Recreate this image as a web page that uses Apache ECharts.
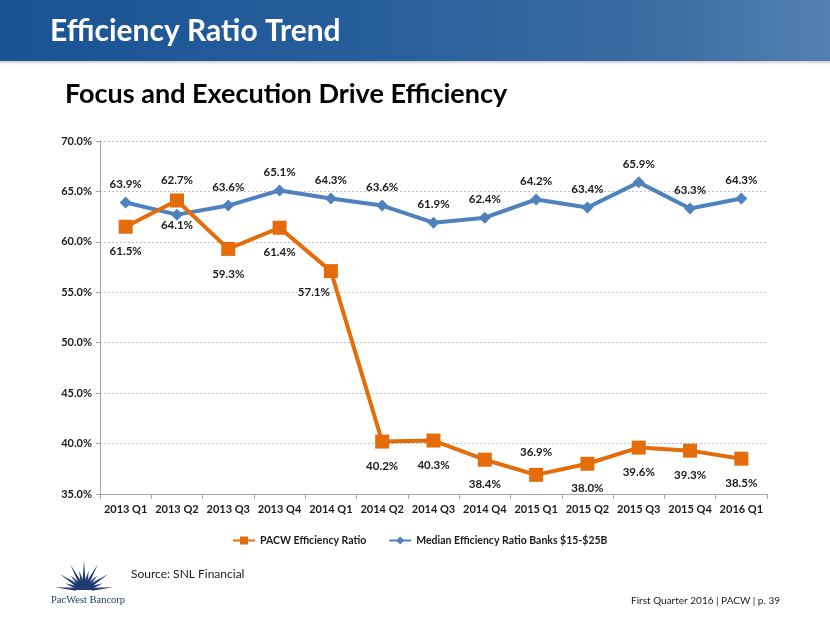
<!DOCTYPE html>
<html><head><meta charset="utf-8">
<script src="https://cdn.jsdelivr.net/npm/echarts@6/dist/echarts.min.js"></script>
<style>html,body{margin:0;padding:0;background:#fff}#c{width:830px;height:623px}</style>
</head><body><div id="c"></div>
<script>
var categories = ['2013 Q1','2013 Q2','2013 Q3','2013 Q4','2014 Q1','2014 Q2','2014 Q3','2014 Q4','2015 Q1','2015 Q2','2015 Q3','2015 Q4','2016 Q1'];
var pacwValues = [61.5, 64.1, 59.3, 61.4, 57.1, 40.2, 40.3, 38.4, 36.9, 38.0, 39.6, 39.3, 38.5];
var medianValues = [63.9, 62.7, 63.6, 65.1, 64.3, 63.6, 61.9, 62.4, 64.2, 63.4, 65.9, 63.3, 64.3];
var seriesNames = ['PACW Efficiency Ratio', 'Median Efficiency Ratio Banks $15-$25B'];
var yTicks = {min: 35, max: 70, interval: 5};

var FONT = 'Lato, "Open Sans", sans-serif';
var ORANGE = '#E46C0A', BLUE = '#4F81BD';

var pacwData = pacwValues.map(function(v, i){
  var d = {value: v};
  if (categories[i] === '2015 Q1') d.label = {position: 'top', distance: 10};
  if (categories[i] === '2014 Q1') d.label = {offset: [-17, -4]};
  return d;
});
var medianData = medianValues.map(function(v, i){
  var d = {value: v};
  if (categories[i] === '2013 Q2') d.label = {distance: 22};
  return d;
});

// logo rays
var logo = [];
var cx = 84, cy = 590;
for (var k = 0; k < 13; k++) {
  var a = Math.PI * (0.03 + 0.94 * k / 12);
  var len = (k % 2 === 0) ? 29 : 20;
  var w = 0.2;
  logo.push({type:'polygon', shape:{points:[
    [cx + 8*Math.cos(a - w), cy - 8*Math.sin(a - w)],
    [cx + len*Math.cos(a), cy - len*Math.sin(a)],
    [cx + 8*Math.cos(a + w), cy - 8*Math.sin(a + w)]
  ]}, style:{fill:'#1F3A6E'}, silent:true});
}
logo.push({type:'sector', shape:{cx:cx, cy:cy, r:9, startAngle:Math.PI, endAngle:2*Math.PI}, style:{fill:'#1F3A6E'}});
logo.push({type:'text', left:51, top:595, style:{text:'PacWest Bancorp', font:'10.5px "Liberation Serif", serif', fill:'#1F3A6E'}});

var chart = echarts.init(document.getElementById('c'), null, {renderer:'canvas'});
chart.setOption({
  animation: false,
  backgroundColor: '#fff',
  textStyle: {fontFamily: FONT},
  grid: {left: 100, right: 63, top: 141, bottom: 129, containLabel: false},
  xAxis: {
    type: 'category', data: categories, boundaryGap: true,
    axisLine: {lineStyle: {color: '#A6A6A6', width: 1}},
    axisTick: {show: true, length: 5, lineStyle: {color: '#A6A6A6'}},
    axisLabel: {color: '#1a1a1a', fontWeight: 'bold', fontSize: 11, fontFamily: FONT, margin: 10, interval: 0}
  },
  yAxis: {
    type: 'value', min: yTicks.min, max: yTicks.max, interval: yTicks.interval,
    axisLine: {show: true, lineStyle: {color: '#A6A6A6', width: 1}},
    axisTick: {show: true, length: 4, lineStyle: {color: '#A6A6A6'}},
    axisLabel: {color: '#1a1a1a', fontWeight: 'bold', fontSize: 11, fontFamily: FONT, margin: 8,
      formatter: function(v){ return v.toFixed(1) + '%'; }},
    splitLine: {lineStyle: {color: '#BFBFBF', type: [2, 2], width: 1}}
  },
  legend: {
    top: 530, left: 227, itemGap: 22, itemWidth: 22, itemHeight: 10,
    textStyle: {color: '#1a1a1a', fontWeight: 'bold', fontSize: 10.5, fontFamily: FONT},
    data: seriesNames
  },
  series: [
    {name: seriesNames[0], type: 'line', data: pacwData, z: 3,
     symbol: 'rect', symbolSize: 14,
     lineStyle: {color: ORANGE, width: 4}, itemStyle: {color: ORANGE},
     label: {show: true, position: 'bottom', distance: 12, color: '#1a1a1a', fontWeight: 'bold', fontSize: 11.5, fontFamily: FONT,
       formatter: function(p){ return p.value.toFixed(1) + '%'; }}},
    {name: seriesNames[1], type: 'line', data: medianData, z: 2,
     symbol: 'diamond', symbolSize: 12,
     lineStyle: {color: BLUE, width: 4}, itemStyle: {color: BLUE},
     label: {show: true, position: 'top', distance: 6, color: '#1a1a1a', fontWeight: 'bold', fontSize: 11.5, fontFamily: FONT,
       formatter: function(p){ return p.value.toFixed(1) + '%'; }}}
  ],
  graphic: [
    {type:'rect', shape:{x:0, y:60, width:830, height:6}, z:-1,
     style:{fill:{type:'linear', x:0, y:0, x2:0, y2:1, colorStops:[{offset:0,color:'rgba(90,90,90,0.5)'},{offset:1,color:'rgba(255,255,255,0)'}]}}},
    {type:'rect', shape:{x:0, y:0, width:830, height:61}, z:0,
     style:{fill:{type:'linear', x:0, y:0, x2:1, y2:0, colorStops:[
       {offset:0,color:'#1A5394'},{offset:0.45,color:'#275F9C'},{offset:0.8,color:'#3C6DA3'},{offset:1,color:'#5381B1'}]}}},
    {type:'text', left:50, top:16, z:1, style:{text:'Efficiency Ratio Trend', font:'bold 30px ' + FONT, fill:'#ffffff'}},
    {type:'text', left:65, top:81, style:{text:'Focus and Execution Drive Efficiency', font:'bold 27px ' + FONT, fill:'#000000'}},
    {type:'text', left:131, top:568, style:{text:'Source: SNL Financial', font:'12px ' + FONT, fill:'#1a1a1a'}},
    {type:'text', right:50, top:596, style:{text:'First Quarter 2016 | PACW | p. 39', font:'10px ' + FONT, fill:'#1a1a1a'}}
  ].concat(logo)
});
</script></body></html>
